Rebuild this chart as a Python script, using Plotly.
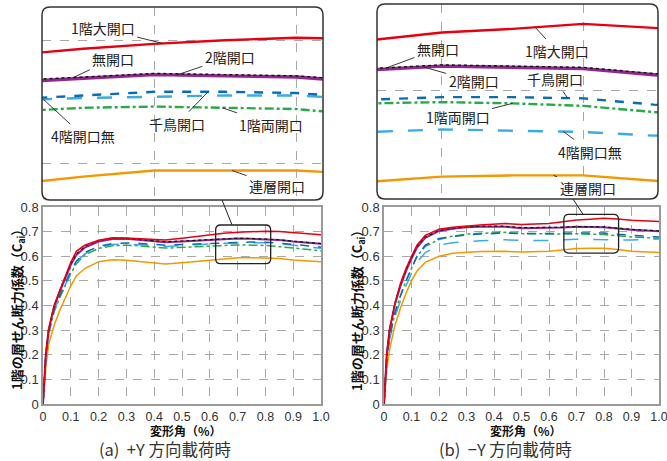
import numpy as np
import plotly.graph_objects as go

# ---------------- data ----------------
drift = [0, 0.01, 0.02, 0.04, 0.06, 0.08, 0.1, 0.12, 0.15, 0.2, 0.25, 0.3, 0.35,
         0.44, 0.5, 0.6, 0.65, 0.7, 0.75, 0.8, 0.85, 0.9, 1.0]

series_names = ["連層開口", "1階両開口", "4階開口無", "千鳥開口", "2階開口", "無開口", "1階大開口"]

# (a) +Y direction
orange_a = [0, 0.15, 0.24, 0.32, 0.38, 0.43, 0.48, 0.52, 0.55, 0.578, 0.586, 0.584, 0.578,
            0.569, 0.574, 0.583, 0.589, 0.594, 0.594, 0.594, 0.591, 0.585, 0.578]
green_a = [0, 0.19, 0.28, 0.375, 0.43, 0.48, 0.53, 0.57, 0.605, 0.632, 0.643, 0.645, 0.642,
           0.633, 0.636, 0.642, 0.645, 0.646, 0.645, 0.644, 0.639, 0.633, 0.622]
ltblue_a = [0, 0.19, 0.285, 0.38, 0.435, 0.485, 0.535, 0.575, 0.61, 0.636, 0.648, 0.650, 0.647,
            0.640, 0.643, 0.651, 0.653, 0.654, 0.655, 0.655, 0.652, 0.645, 0.632]
blue_a = [0, 0.19, 0.29, 0.385, 0.44, 0.49, 0.54, 0.58, 0.615, 0.64, 0.652, 0.654, 0.652,
          0.645, 0.648, 0.652, 0.655, 0.658, 0.658, 0.657, 0.653, 0.648, 0.637]
purple_a = [0, 0.20, 0.30, 0.395, 0.455, 0.51, 0.565, 0.605, 0.635, 0.66, 0.670, 0.671, 0.667,
            0.657, 0.660, 0.666, 0.669, 0.672, 0.671, 0.670, 0.666, 0.660, 0.651]
black_a = [0, 0.20, 0.30, 0.40, 0.46, 0.515, 0.57, 0.61, 0.64, 0.664, 0.673, 0.673, 0.669,
           0.659, 0.662, 0.667, 0.670, 0.673, 0.672, 0.671, 0.667, 0.661, 0.651]
red_a = [0, 0.20, 0.30, 0.40, 0.46, 0.52, 0.575, 0.62, 0.645, 0.665, 0.675, 0.674, 0.671,
         0.666, 0.673, 0.688, 0.693, 0.697, 0.700, 0.702, 0.701, 0.696, 0.687]

# (b) -Y direction
orange_b = [0, 0.14, 0.22, 0.32, 0.39, 0.45, 0.50, 0.54, 0.575, 0.600, 0.612, 0.617, 0.619,
            0.620, 0.617, 0.620, 0.627, 0.631, 0.632, 0.632, 0.627, 0.620, 0.615]
green_b = [0, 0.18, 0.27, 0.37, 0.44, 0.50, 0.55, 0.60, 0.640, 0.668, 0.682, 0.690, 0.693,
           0.697, 0.692, 0.689, 0.690, 0.691, 0.690, 0.688, 0.683, 0.678, 0.673]
ltblue_b = [0, 0.17, 0.26, 0.355, 0.42, 0.48, 0.53, 0.575, 0.615, 0.645, 0.655, 0.660, 0.663,
            0.667, 0.664, 0.664, 0.667, 0.669, 0.668, 0.667, 0.664, 0.666, 0.670]
blue_b = [0, 0.18, 0.27, 0.37, 0.44, 0.50, 0.55, 0.60, 0.645, 0.672, 0.680, 0.687, 0.690,
          0.694, 0.692, 0.691, 0.693, 0.695, 0.695, 0.694, 0.689, 0.685, 0.678]
purple_b = [0, 0.20, 0.30, 0.405, 0.48, 0.54, 0.59, 0.635, 0.675, 0.703, 0.712, 0.718, 0.720,
            0.720, 0.714, 0.715, 0.717, 0.720, 0.719, 0.718, 0.713, 0.708, 0.702]
black_b = [0, 0.20, 0.30, 0.41, 0.485, 0.545, 0.595, 0.64, 0.678, 0.705, 0.714, 0.720, 0.722,
           0.722, 0.716, 0.716, 0.718, 0.721, 0.720, 0.719, 0.714, 0.709, 0.703]
red_b = [0, 0.20, 0.30, 0.41, 0.49, 0.55, 0.60, 0.645, 0.685, 0.71, 0.718, 0.724, 0.727,
         0.733, 0.729, 0.733, 0.741, 0.747, 0.750, 0.754, 0.751, 0.746, 0.741]

x_tickvals = [0, 0.1, 0.2, 0.3, 0.4, 0.5, 0.6, 0.7, 0.8, 0.9, 1.0]
x_ticktext = ["0", "0.1", "0.2", "0.3", "0.4", "0.5", "0.6", "0.7", "0.8", "0.9", "1.0"]
y_tickvals = [0, 0.1, 0.2, 0.3, 0.4, 0.5, 0.6, 0.7, 0.8]
y_ticktext = ["0", "0.1", "0.2", "0.3", "0.4", "0.5", "0.6", "0.7", "0.8"]

inset_a_x = [0.621, 0.819]
inset_a_y = [0.570, 0.727]
inset_b_x = [0.654, 0.853]
inset_b_y = [0.613, 0.770]

y_title = "1階の層せん断力係数（C<sub>ai</sub>）"
x_title = "変形角（%）"
captions = ["(a)  +Y 方向載荷時", "(b)  −Y 方向載荷時"]

# ---------------- styles ----------------
W, H = 667, 461
styles = {
    "連層開口": dict(color="#F39800", dash="solid"),
    "1階両開口": dict(color="#2BA84A", dash="dashdot"),
    "4階開口無": dict(color="#3AACE0", dash="longdash"),
    "千鳥開口": dict(color="#0A6CB5", dash="dash"),
    "2階開口": dict(color="#92278F", dash="solid"),
    "無開口": dict(color="#111111", dash="dot"),
    "1階大開口": dict(color="#E60012", dash="solid"),
}
main_w = {"2階開口": 2.0, "無開口": 1.2}
inset_w = {"2階開口": 3.4, "無開口": 1.4}

data_a = [orange_a, green_a, ltblue_a, blue_a, purple_a, black_a, red_a]
data_b = [orange_b, green_b, ltblue_b, blue_b, purple_b, black_b, red_b]

fig = go.Figure()


def add_traces(values, xa, ya, widths, default_w):
    for name, vals in zip(series_names, values):
        st = styles[name]
        fig.add_trace(go.Scatter(
            x=drift, y=vals, mode="lines", name=name, showlegend=False,
            xaxis=xa, yaxis=ya,
            line=dict(color=st["color"], dash=st["dash"], width=widths.get(name, default_w)),
            hoverinfo="skip"))


add_traces(data_a, "x", "y", main_w, 1.5)
add_traces(data_b, "x2", "y2", main_w, 1.5)
add_traces(data_a, "x3", "y3", inset_w, 2.4)
add_traces(data_b, "x4", "y4", inset_w, 2.4)

FONT_JP = "Noto Sans CJK JP, Noto Sans, sans-serif"
FONT_TICK = "Liberation Sans Narrow, Liberation Sans, Arial, sans-serif"
GRID = "#A8A8A8"

dom_main_a = [43 / W, 321 / W]
dom_main_b = [384 / W, 659 / W]
dom_main_y = [1 - 404 / H, 1 - 207 / H]
dom_in_a_x = [42 / W, 323 / W]
dom_in_a_y = [1 - 200 / H, 1 - 7 / H]
dom_in_b_x = [377 / W, 658 / W]
dom_in_b_y = [1 - 199 / H, 1 - 4 / H]

main_x = dict(range=[0, 1], tickvals=x_tickvals, ticktext=x_ticktext, showgrid=True,
              gridcolor=GRID, griddash="dash", gridwidth=1, showline=True, mirror=True,
              linecolor="#9A9A9A", linewidth=1.5, ticks="", zeroline=False,
              ticklabeloverflow="allow", ticklabelstandoff=0,
              tickfont=dict(family=FONT_TICK, size=12.5, color="#333"))
main_y = dict(range=[0, 0.8], tickvals=y_tickvals, ticktext=y_ticktext, showgrid=True,
              gridcolor=GRID, griddash="dash", gridwidth=1, showline=True, mirror=True,
              linecolor="#9A9A9A", linewidth=1.5, ticks="", zeroline=False,
              ticklabeloverflow="allow",
              tickfont=dict(family=FONT_TICK, size=13, color="#333"), domain=dom_main_y)
inset_ax = dict(showticklabels=False, ticks="", showgrid=True, gridcolor=GRID,
                griddash="dash", gridwidth=1, showline=False, zeroline=False)

fig.update_layout(
    width=W, height=H, margin=dict(l=0, r=0, t=0, b=0, autoexpand=False),
    paper_bgcolor="white", plot_bgcolor="white",
    font=dict(family=FONT_JP, color="#222"),
    xaxis=dict(main_x, domain=dom_main_a, anchor="y"),
    yaxis=dict(main_y, anchor="x"),
    xaxis2=dict(main_x, domain=dom_main_b, anchor="y2"),
    yaxis2=dict(main_y, anchor="x2"),
    xaxis3=dict(inset_ax, domain=dom_in_a_x, range=inset_a_x, tickvals=[0.7, 0.8], anchor="y3"),
    yaxis3=dict(inset_ax, domain=dom_in_a_y, range=inset_a_y, tickvals=[0.6, 0.7], anchor="x3"),
    xaxis4=dict(inset_ax, domain=dom_in_b_x, range=inset_b_x, tickvals=[0.7, 0.8], anchor="y4"),
    yaxis4=dict(inset_ax, domain=dom_in_b_y, range=inset_b_y, tickvals=[0.6, 0.7], anchor="x4"),
)


def rounded(x0, y0, x1, y1, rx, ry):
    return (f"M {x0+rx},{y0} L {x1-rx},{y0} Q {x1},{y0} {x1},{y0+ry} "
            f"L {x1},{y1-ry} Q {x1},{y1} {x1-rx},{y1} L {x0+rx},{y1} "
            f"Q {x0},{y1} {x0},{y1-ry} L {x0},{y0+ry} Q {x0},{y0} {x0+rx},{y0} Z")


shapes = []
# inset frames (paper)
for dx, dy in [(dom_in_a_x, dom_in_a_y), (dom_in_b_x, dom_in_b_y)]:
    shapes.append(dict(type="path", xref="paper", yref="paper",
                       path=rounded(dx[0], dy[0], dx[1], dy[1], 8 / W, 8 / H),
                       line=dict(color="#333", width=1.5)))


def to_paper(v, rng, dom):
    return dom[0] + (v - rng[0]) / (rng[1] - rng[0]) * (dom[1] - dom[0])


# zoom boxes on main axes + connectors
for xr, yr, xref, yref, dom_x, in_dom_x, in_dom_y, cx_box, cx_in in [
        (inset_a_x, inset_a_y, "x", "y", dom_main_a, dom_in_a_x, dom_in_a_y, 0.68, 222 / W),
        (inset_b_x, inset_b_y, "x2", "y2", dom_main_b, dom_in_b_x, dom_in_b_y, 0.724, 573 / W)]:
    pxx = (dom_x[1] - dom_x[0]) * W
    pxy = (dom_main_y[1] - dom_main_y[0]) * H / 0.8
    shapes.append(dict(type="path", xref=xref, yref=yref,
                       path=rounded(xr[0], yr[0], xr[1], yr[1], 5 / pxx, 5 / pxy),
                       line=dict(color="#222", width=1.3)))
    bx = to_paper(cx_box, [0, 1], dom_x)
    by = to_paper(yr[1], [0, 0.8], dom_main_y)
    shapes.append(dict(type="line", xref="paper", yref="paper",
                       x0=cx_in, y0=in_dom_y[0], x1=bx, y1=by,
                       line=dict(color="#222", width=1)))

annotations = []


def label(name, xv, values, xa, ya, ax, ay):
    yv = float(np.interp(xv, drift, values))
    annotations.append(dict(x=xv, y=yv, xref=xa, yref=ya, text=name, showarrow=True,
                            arrowhead=0, arrowwidth=0.9, arrowcolor="#222", ax=ax, ay=ay,
                            standoff=0, startstandoff=1,
                            font=dict(family=FONT_JP, size=14, color="#222")))


# left inset labels
label("1階大開口", 0.706, red_a, "x3", "y3", -60, -15)
label("無開口", 0.643, black_a, "x3", "y3", 40, -19)
label("2階開口", 0.716, purple_a, "x3", "y3", 53, -18)
label("4階開口無", 0.622, ltblue_a, "x3", "y3", 40, 37)
label("千鳥開口", 0.738, blue_a, "x3", "y3", -31, 32)
label("1階両開口", 0.748, green_a, "x3", "y3", 49, 17)
label("連層開口", 0.755, orange_a, "x3", "y3", 45, 16)

# right inset labels
label("1階大開口", 0.766, red_b, "x4", "y4", 22, 24)
label("無開口", 0.661, black_b, "x4", "y4", 51, -19)
label("2階開口", 0.687, purple_b, "x4", "y4", 50, 14)
label("千鳥開口", 0.789, blue_b, "x4", "y4", -13, -19)
label("1階両開口", 0.750, green_b, "x4", "y4", -55, 14)
label("4階開口無", 0.786, ltblue_b, "x4", "y4", 27, 20)
label("連層開口", 0.779, orange_b, "x4", "y4", 34, 13)

# axis titles and captions
for xc in [17 / W, 357 / W]:
    annotations.append(dict(x=xc, y=1 - 307 / H, xref="paper", yref="paper", text=y_title,
                            textangle=-90, showarrow=False, xanchor="center", yanchor="middle",
                            font=dict(family=FONT_JP, size=13, color="#111", weight="bold")))
for xc in [186 / W, 526 / W]:
    annotations.append(dict(x=xc, y=1 - 430 / H, xref="paper", yref="paper", text=x_title,
                            showarrow=False, xanchor="center", yanchor="middle", borderpad=0,
                            font=dict(family=FONT_JP, size=12, color="#111", weight="bold")))
for xc, cap in zip([165 / W, 505 / W], captions):
    annotations.append(dict(x=xc, y=1 - 449 / H, xref="paper", yref="paper", text=cap,
                            showarrow=False, xanchor="center", yanchor="middle", borderpad=0,
                            font=dict(family=FONT_JP, size=16.5, color="#333")))

fig.update_layout(shapes=shapes, annotations=annotations)
fig.write_html("out.html", config={"displayModeBar": False},
               post_script="document.body.style.margin='0';document.body.style.overflow='hidden';")
